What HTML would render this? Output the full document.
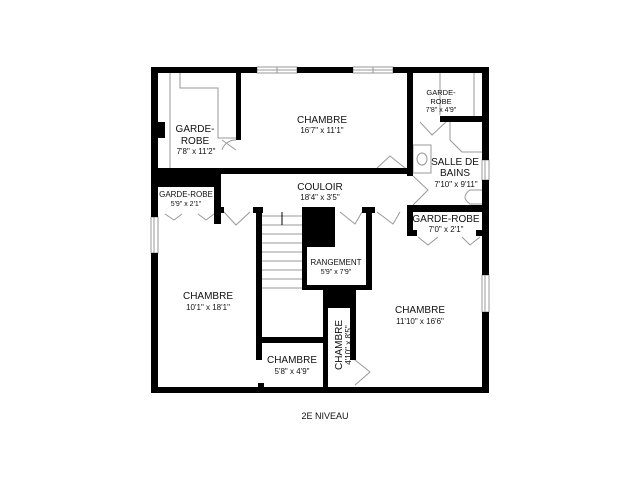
<!DOCTYPE html>
<html><head><meta charset="utf-8"><style>
html,body{margin:0;padding:0;background:#fff;}
svg text{font-family:"Liberation Sans",Arial,sans-serif;fill:#111;}
</style></head><body>
<svg width="640" height="480" viewBox="0 0 640 480" xmlns="http://www.w3.org/2000/svg">
<rect width="640" height="480" fill="#fff"/>
<!-- thin lines (closets, fixtures) -->
<g stroke="#999" stroke-width="1" fill="none">
<polyline points="170,73 170,168"/>
<polyline points="180,73 180,88 218,88 218,138 236,138"/>
<polyline points="440,73 440,115"/>
<polyline points="474,73 474,117"/>
<polyline points="450,122 450,140 462,152 483,152"/>
<rect x="413" y="145" width="18" height="28"/>
<ellipse cx="422" cy="159" rx="5" ry="6"/>
<path d="M483,190 L470,190 Q460,197 470,204 L483,204"/>
<!-- doors -->
<path d="M222,140 L236,150 M236,140 A14,14 0 0 0 222,150"/>
<path d="M377,168 L390,156 L405,168"/>
<path d="M413,176 L428,190 L413,205"/>
<path d="M420,122 L432,135 L446,122"/>
<path d="M165,214 L174,220 L182,214 M198,214 L206,220 L214,214"/>
<path d="M224,212 L236,225 L250,212"/>
<path d="M340,212 L355,224 L362,212"/>
<path d="M377,212 L393,224 L400,212"/>
<path d="M418,237 L428,245 L438,237 M462,237 L470,245 L480,237"/>
<path d="M355,360 L370,372 L355,385"/>
<!-- stair -->
<line x1="262" y1="216" x2="302" y2="216"/>
<line x1="262" y1="225" x2="302" y2="225"/><line x1="262" y1="234" x2="302" y2="234"/>
<line x1="262" y1="243" x2="302" y2="243"/><line x1="262" y1="252" x2="302" y2="252"/>
<line x1="262" y1="261" x2="302" y2="261"/><line x1="262" y1="270" x2="302" y2="270"/>
<line x1="262" y1="279" x2="302" y2="279"/><line x1="262" y1="288" x2="302" y2="288"/>
<line x1="282" y1="225" x2="282" y2="212" stroke="#000"/>
<!-- windows -->
<rect x="257" y="67" width="40" height="6"/><line x1="257" y1="70" x2="297" y2="70"/><line x1="277" y1="67" x2="277" y2="73"/>
<rect x="353" y="67" width="40" height="6"/><line x1="353" y1="70" x2="393" y2="70"/><line x1="373" y1="67" x2="373" y2="73"/>
<rect x="151" y="217" width="7" height="36"/><line x1="154" y1="217" x2="154" y2="253"/>
<rect x="482" y="160" width="7" height="20"/><line x1="485" y1="160" x2="485" y2="180"/>
<rect x="482" y="275" width="7" height="37"/><line x1="485" y1="275" x2="485" y2="312"/>
</g>
<g fill="#000">
<!-- outer walls -->
<rect x="151" y="67" width="106" height="6"/><rect x="297" y="67" width="56" height="6"/><rect x="393" y="67" width="96" height="6"/>
<rect x="151" y="387" width="338" height="6"/>
<rect x="151" y="67" width="7" height="150"/><rect x="151" y="253" width="7" height="140"/>
<rect x="482" y="67" width="7" height="93"/><rect x="482" y="180" width="7" height="95"/><rect x="482" y="312" width="7" height="81"/>
<rect x="151" y="122" width="14" height="16"/>
<!-- interior -->
<rect x="236" y="73" width="5" height="67"/>
<rect x="151" y="168" width="262" height="6"/>
<rect x="151" y="168" width="70" height="19"/>
<rect x="214" y="168" width="7" height="56"/>
<rect x="151" y="205" width="7" height="10"/>
<rect x="218" y="207" width="6" height="6"/>
<rect x="407" y="73" width="6" height="103"/>
<rect x="440" y="116" width="43" height="6"/>
<rect x="407" y="205" width="82" height="7"/>
<rect x="407" y="205" width="6" height="30"/><rect x="407" y="230" width="10" height="6"/>
<rect x="476" y="230" width="7" height="6"/>
<rect x="253" y="207" width="10" height="6"/><rect x="256" y="207" width="6" height="153"/>
<rect x="262" y="337" width="66" height="6"/>
<rect x="302" y="207" width="33" height="40"/><rect x="302" y="207" width="5" height="83"/>
<rect x="362" y="207" width="13" height="6"/><rect x="366" y="207" width="6" height="83"/>
<rect x="302" y="285" width="70" height="5"/>
<rect x="323" y="285" width="33" height="23"/>
<rect x="323" y="285" width="5" height="102"/>
<rect x="350" y="285" width="6" height="75"/>
<rect x="258" y="383" width="6" height="4"/>
</g>
<!-- labels -->
<g text-anchor="middle">
<text x="322" y="123" font-size="10">CHAMBRE</text><text x="322" y="133" font-size="8">16'7" x 11'1"</text>
<text x="195" y="132" font-size="10">GARDE-</text><text x="195" y="144" font-size="10">ROBE</text><text x="196" y="154" font-size="8">7'8" x 11'2"</text>
<text x="441" y="95" font-size="7.5">GARDE-</text><text x="441" y="104" font-size="7.5">ROBE</text><text x="441" y="112" font-size="7">7'8" x 4'9"</text>
<text x="455" y="165" font-size="10">SALLE DE</text><text x="455" y="176" font-size="10">BAINS</text><text x="456" y="187" font-size="8">7'10" x 9'11"</text>
<text x="320" y="190" font-size="10">COULOIR</text><text x="320" y="200" font-size="8">18'4" x 3'5"</text>
<text x="186" y="197" font-size="8">GARDE-ROBE</text><text x="186" y="206" font-size="7">5'9" x 2'1"</text>
<text x="446" y="222" font-size="10">GARDE-ROBE</text><text x="446" y="232" font-size="8">7'0" x 2'1"</text>
<text x="336" y="265" font-size="8">RANGEMENT</text><text x="336" y="274" font-size="7">5'9" x 7'9"</text>
<text x="208" y="299" font-size="10">CHAMBRE</text><text x="208" y="310" font-size="8">10'1" x 18'1"</text>
<text x="420" y="313" font-size="10">CHAMBRE</text><text x="420" y="324" font-size="8">11'10" x 16'6"</text>
<text x="292" y="363" font-size="10">CHAMBRE</text><text x="292" y="374" font-size="8">5'8" x 4'9"</text>
<text transform="translate(342,345) rotate(-90)" font-size="10">CHAMBRE</text>
<text transform="translate(351,345) rotate(-90)" font-size="8">4'10" x 8'5"</text>
<text x="325" y="419" font-size="9">2E NIVEAU</text>
</g>
</svg>
</body></html>
